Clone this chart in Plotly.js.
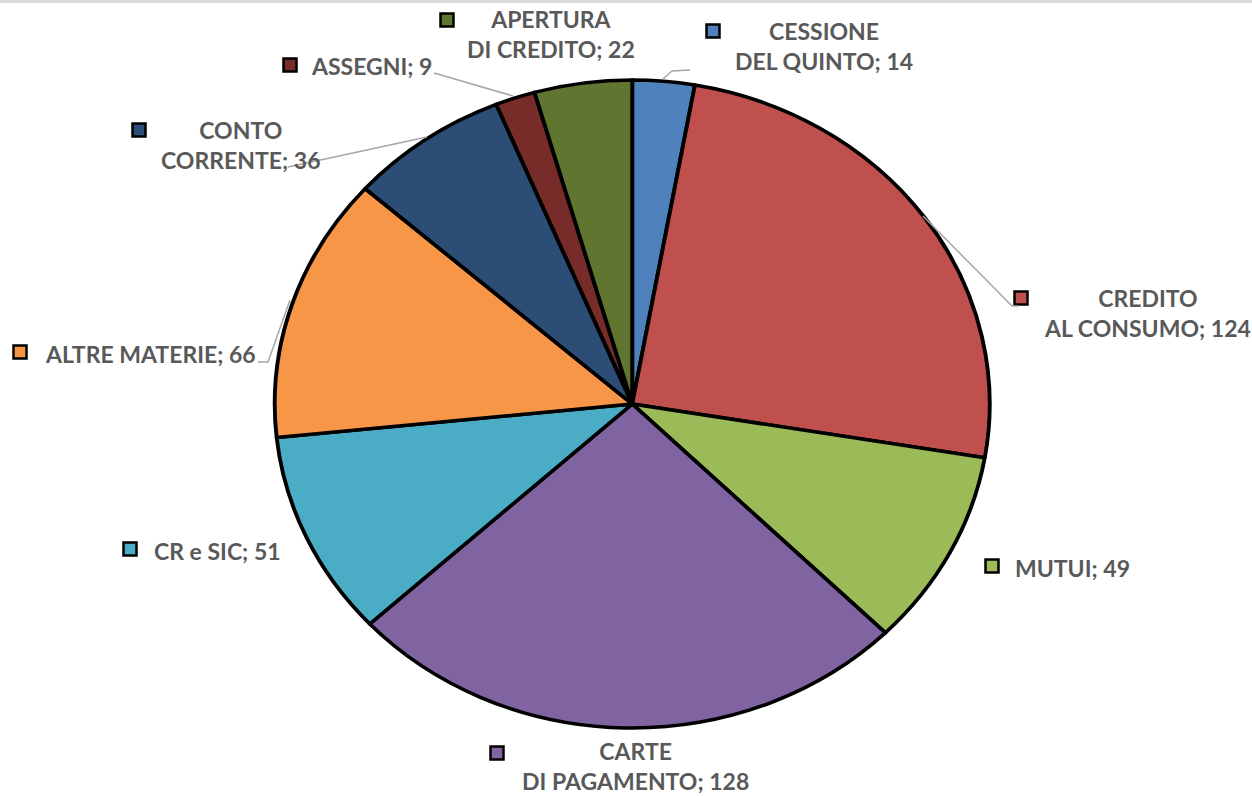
<!DOCTYPE html>
<html>
<head>
<meta charset="utf-8">
<script src="https://cdn.plot.ly/plotly-3.0.1.min.js"></script>
<style>
  html, body { margin: 0; padding: 0; background: #ffffff; }
  #chart { width: 1252px; height: 796px; }
</style>
</head>
<body>
<div id="chart"></div>
<script>
// ---- Data ----
const categories = [
  'CESSIONE\nDEL QUINTO',
  'CREDITO\nAL CONSUMO',
  'MUTUI',
  'CARTE\nDI PAGAMENTO',
  'CR e SIC',
  'ALTRE MATERIE',
  'CONTO\nCORRENTE',
  'ASSEGNI',
  'APERTURA\nDI CREDITO'
];
const values = [14, 124, 49, 128, 51, 66, 36, 9, 22];
const colors = ['#4F81BD', '#C0504D', '#9BBB59', '#8064A2', '#4BACC6', '#F79646', '#2C4D75', '#772C2A', '#5F7530'];

// ---- Layout helpers (pixel -> paper) ----
const W = 1252, H = 796;
const px = x => x / W;
const py = y => 1 - y / H;

// label block centres and marker squares (pixels)
const labelPos = [
  {x: 824, y: 46},
  {x: 1147, y: 313},
  {x: 1072, y: 568},
  {x: 635, y: 766},
  {x: 217, y: 551},
  {x: 150, y: 354},
  {x: 240, y: 145},
  {x: 371, y: 66},
  {x: 551, y: 34}
];
const squarePos = [
  {x: 713, y: 31}, {x: 1021, y: 298}, {x: 992, y: 566}, {x: 497, y: 753},
  {x: 130, y: 549}, {x: 20, y: 352}, {x: 139, y: 130}, {x: 290, y: 65}, {x: 447, y: 20}
];
const leaders = [
  [[663, 79], [672, 71], [690, 70]],
  [[923, 216], [1012, 306], [1018, 306]],
  null, null, null,
  [[258, 362], [268, 362], [290, 300]],
  [[288, 167], [427, 137]],
  [[434, 73], [513, 96]],
  null
];

const annotations = categories.map((c, i) => ({
  xref: 'paper', yref: 'paper',
  x: px(labelPos[i].x), y: py(labelPos[i].y),
  xanchor: 'center', yanchor: 'middle',
  align: 'center',
  showarrow: false,
  text: (c + '; ' + values[i]).replace('\n', '<br>'),
  font: {family: 'Lato, "Open Sans", sans-serif', size: 23, color: '#595959', weight: 'bold'}
}));

const shapes = [];
// top gray border line
shapes.push({type: 'rect', xref: 'paper', yref: 'paper', x0: 0, x1: 1, y0: py(3), y1: 1,
  fillcolor: '#d9d9d9', line: {width: 0}, layer: 'below'});
squarePos.forEach((s, i) => {
  const h = 6.5;
  shapes.push({type: 'rect', xref: 'paper', yref: 'paper',
    x0: px(s.x - h), x1: px(s.x + h), y0: py(s.y + h), y1: py(s.y - h),
    fillcolor: colors[i], line: {color: '#000000', width: 2.5}});
});
leaders.forEach(l => {
  if (!l) return;
  const d = l.map((p, k) => (k === 0 ? 'M ' : 'L ') + px(p[0]) + ' ' + py(p[1])).join(' ');
  shapes.push({type: 'path', xref: 'paper', yref: 'paper', path: d,
    line: {color: '#a6a6a6', width: 1.5}});
});

const trace = {
  type: 'pie',
  labels: categories.map(c => c.replace('\n', ' ')),
  values: values,
  sort: false,
  direction: 'clockwise',
  rotation: 0,
  textinfo: 'none',
  hoverinfo: 'label+value+percent',
  marker: {colors: colors, line: {color: '#000000', width: 3.5}},
  domain: {x: [0.18, 0.83], y: [py(728), py(80)]},
  showlegend: false
};

const layout = {
  width: W, height: H,
  margin: {l: 0, r: 0, t: 0, b: 0},
  paper_bgcolor: '#ffffff',
  plot_bgcolor: '#ffffff',
  showlegend: false,
  annotations: annotations,
  shapes: shapes
};

Plotly.newPlot('chart', [trace], layout, {displayModeBar: false, staticPlot: true}).then(() => {
  // stretch the pie horizontally into the ellipse of the reference
  const cx = 632.5, sx = 357.5 / 324;
  document.querySelectorAll('#chart .pielayer').forEach(g => {
    g.setAttribute('transform', `translate(${cx},0) scale(${sx},1) translate(${-cx},0)`);
  });
});
</script>
</body>
</html>
